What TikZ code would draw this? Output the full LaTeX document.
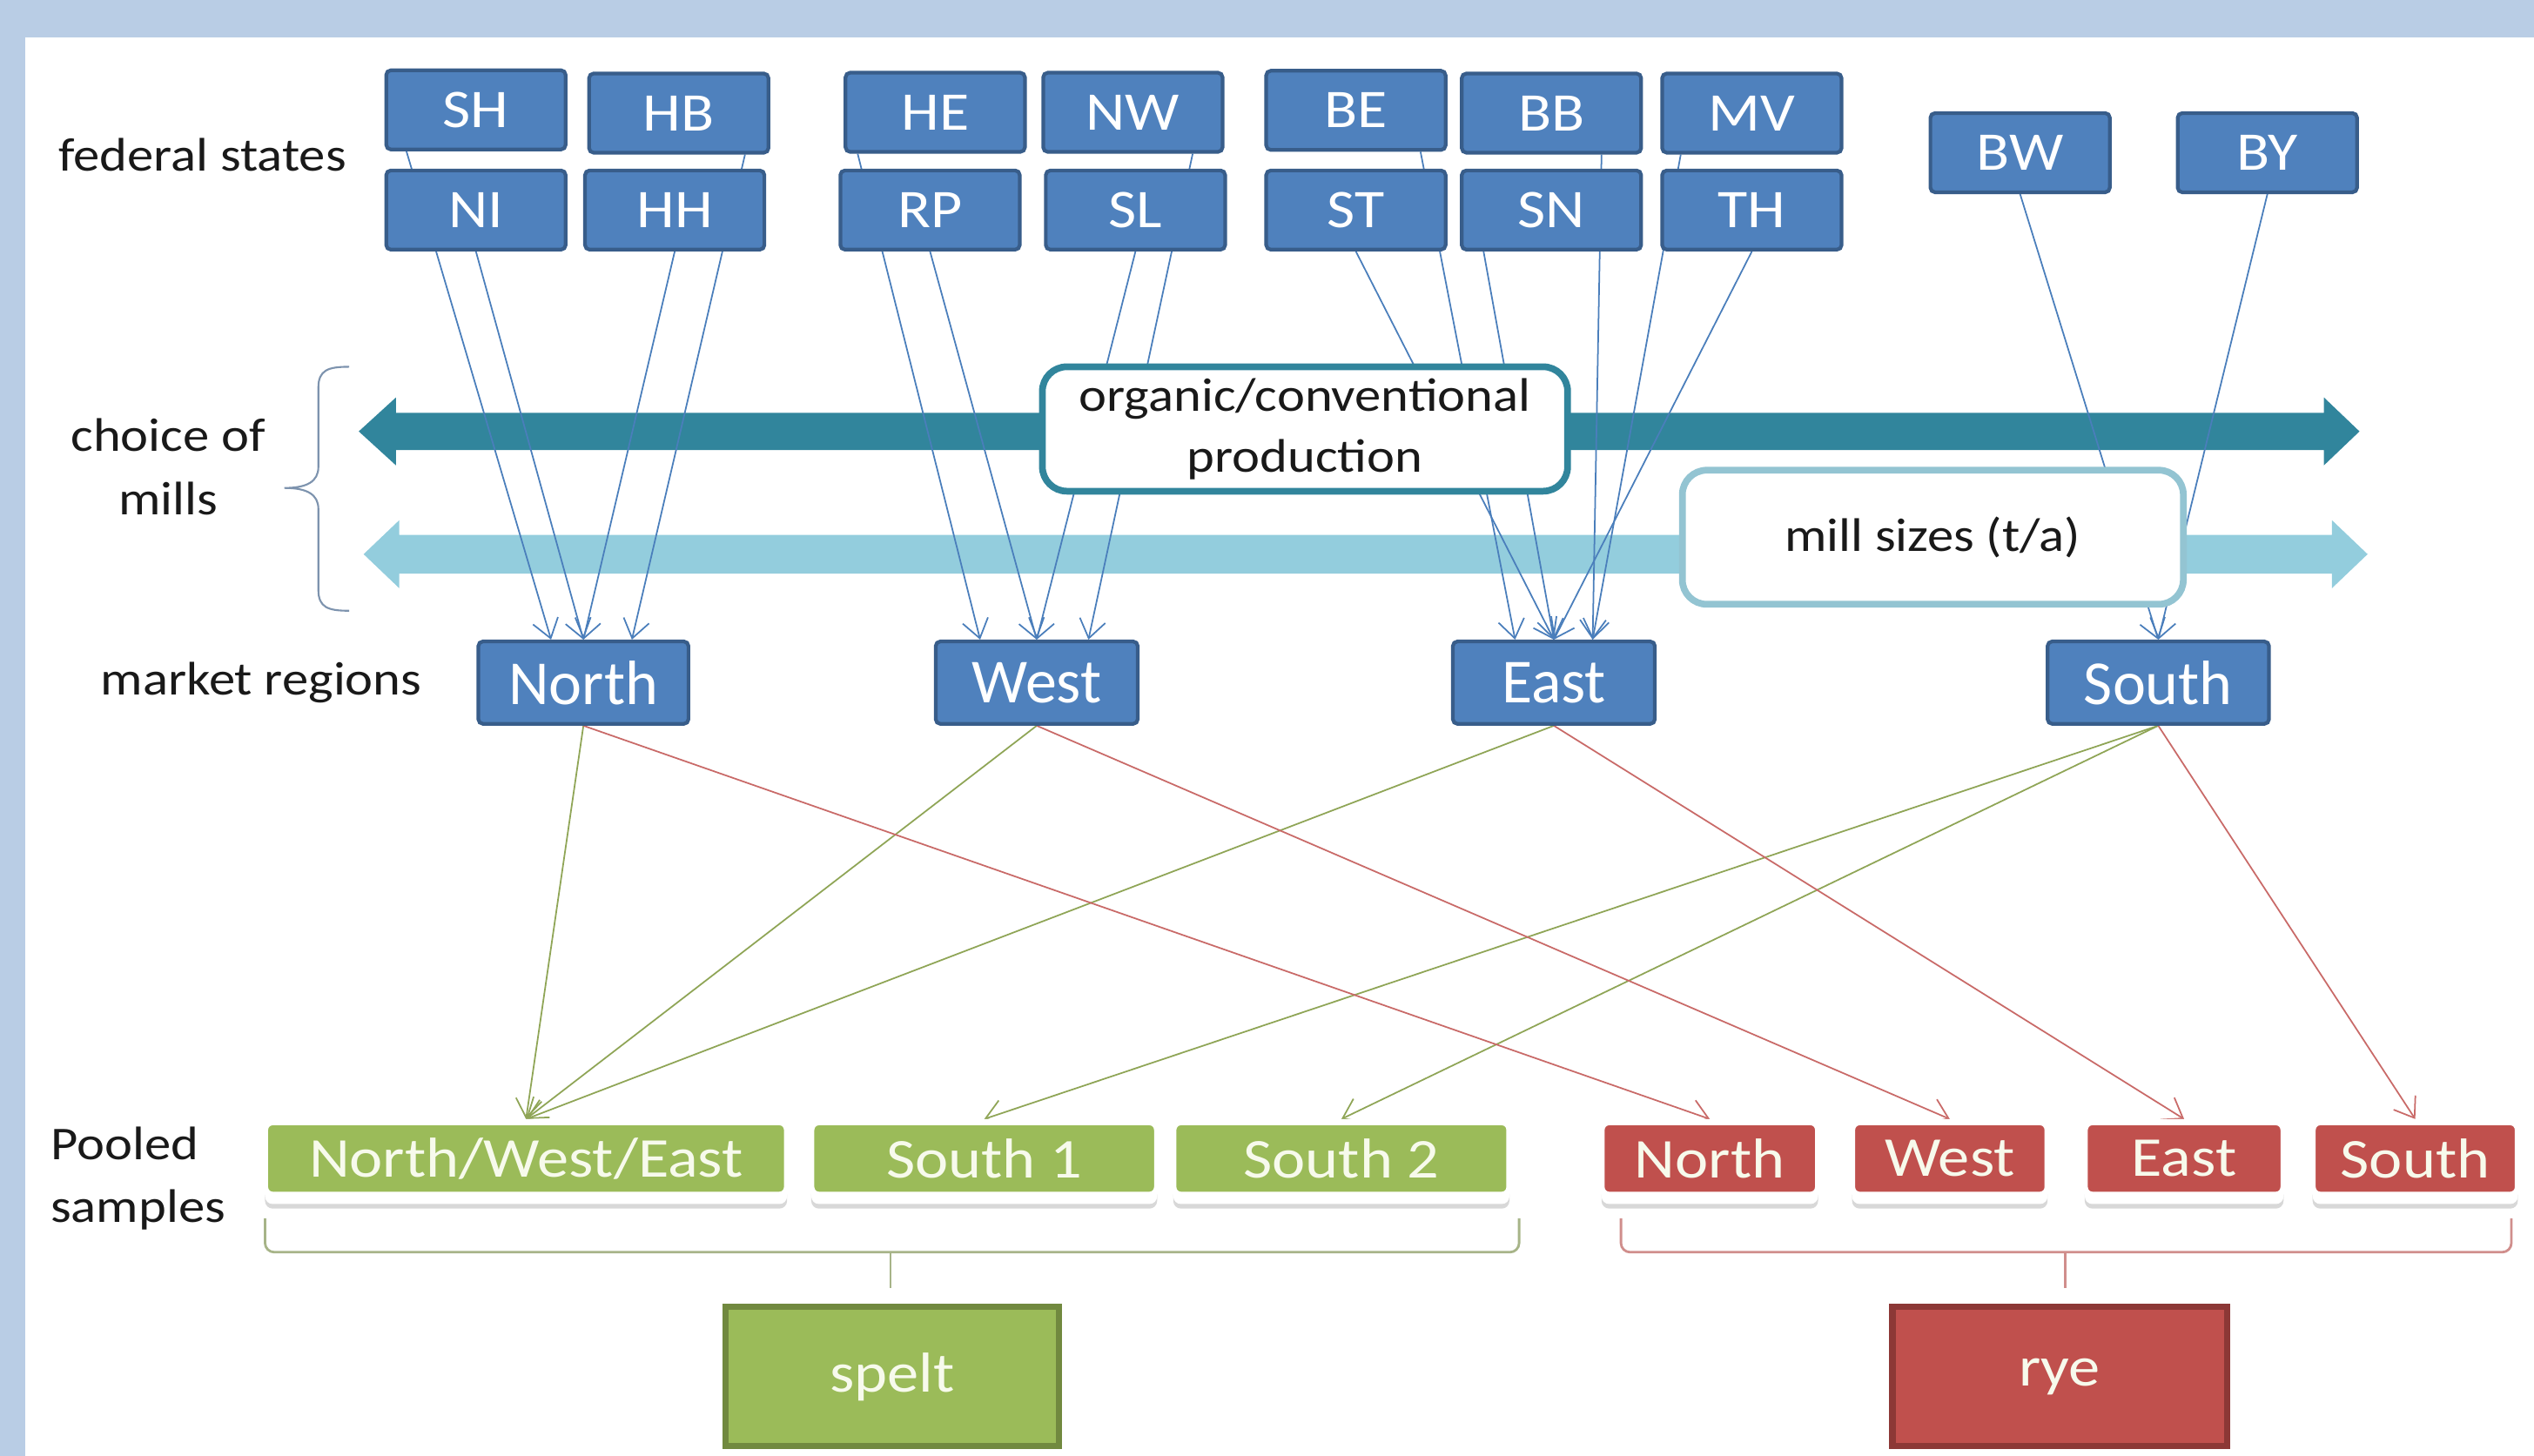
\documentclass[tikz,border=0pt]{standalone}
\usepackage{fontspec}
\setmainfont{Carlito}
\newfontfamily\widefont{Carlito}[FakeStretch=1.12]
\usetikzlibrary{arrows.meta,calc,shadows}
\pgfdeclarelayer{back}
\pgfdeclarelayer{wires}
\pgfsetlayers{back,wires,main}
\newcommand{\pxs}{0.018565cm}
\definecolor{frameblue}{HTML}{B9CDE5}
\definecolor{stateblue}{HTML}{4F81BD}
\definecolor{stateline}{HTML}{385D8A}
\definecolor{wireblue}{HTML}{4A7EBB}
\definecolor{tealdark}{HTML}{31859C}
\definecolor{teallight}{HTML}{93CDDD}
\definecolor{teallightline}{HTML}{93C4D2}
\definecolor{speltgreen}{HTML}{9BBB59}
\definecolor{speltline}{HTML}{71893F}
\definecolor{speltwire}{HTML}{8FA556}
\definecolor{speltbrace}{HTML}{A7B488}
\definecolor{ryered}{HTML}{C0504D}
\definecolor{ryeline}{HTML}{8C3836}
\definecolor{ryebrace}{HTML}{D08E8C}
\definecolor{bracegray}{HTML}{7D93AE}
\definecolor{creamtext}{HTML}{F7FAEC}

\begin{document}
\begin{tikzpicture}[x=0.018565cm, y=-0.018565cm]
    \tikzset{statebox/.style={draw=stateline, fill=stateblue, line width=1.2pt, rounded corners=1.5pt,
            text=white, inner sep=0pt, minimum width=111*\pxs, minimum height=49*\pxs,
            font=\widefont\fontsize{17.8}{20}\selectfont},
        regionbox/.style={statebox, minimum height=51*\pxs, font=\fontsize{20.5}{24}\selectfont},
        pooled/.style={draw=white, line width=2pt, rounded corners=2.5pt, inner sep=0pt,
            minimum height=45*\pxs, text=creamtext, font=\widefont\fontsize{18.4}{22}\selectfont,
            drop shadow={shadow xshift=0pt, shadow yshift=-4.5pt, opacity=.3, fill=black!50},
            drop shadow={shadow xshift=0pt, shadow yshift=-3pt, opacity=1, fill=white}},
        cropbox/.style={line width=2pt, inner sep=0pt, minimum width=206*\pxs, minimum height=86*\pxs,
            text=creamtext, font=\widefont\fontsize{18.4}{22}\selectfont},
        rowlabel/.style={inner sep=0pt, text=black!90, font=\widefont\fontsize{15.4}{20.6}\selectfont},
        choicebox/.style={fill=white, line width=2.2pt, rounded corners=8pt, inner sep=0pt, align=center,
            text=black!90, font=\widefont\fontsize{15.4}{20}\selectfont},
        wire/.style={draw=wireblue, line width=.5pt, -{Straight Barb[length=6pt,width=8.5pt]}},
        speltwire/.style={wire, draw=speltwire},
        ryewire/.style={wire, draw=ryered!85!white}}
    \useasboundingbox (0,0) rectangle (1568,901);

    %federal states
    \node[statebox] (SH) at (294.5,68) {SH};
    \node[statebox] (HB) at (420,70) {HB};
    \node[statebox] (NI) at (294.5,130) {NI};
    \node[statebox] (HH) at (417.5,130) {HH};
    \node[statebox] (HE) at (578.7,69.5) {HE};
    \node[statebox] (NW) at (701,69.5) {NW};
    \node[statebox] (RP) at (575.5,130) {RP};
    \node[statebox] (SL) at (702.6,130) {SL};
    \node[statebox] (BE) at (839,68.3) {BE};
    \node[statebox] (BB) at (960,70) {BB};
    \node[statebox] (MV) at (1084,70) {MV};
    \node[statebox] (ST) at (839,130) {ST};
    \node[statebox] (SN) at (960,130) {SN};
    \node[statebox] (TH) at (1084,130) {TH};
    \node[statebox] (BW) at (1250,94.5) {BW};
    \node[statebox] (BY) at (1403,94.5) {BY};

    %market regions
    \node[regionbox, minimum width=130*\pxs] (North) at (361,422.5) {North};
    \node[regionbox, minimum width=125*\pxs] (West) at (641.5,422.5) {West};
    \node[regionbox, minimum width=125*\pxs] (East) at (961.5,422.5) {East};
    \node[regionbox, minimum width=137*\pxs] (South) at (1335.5,422.5) {South};

    %row labels
    \node[rowlabel, anchor=base west] (fedlab) at (36,106) {federal states};
    \node[rowlabel, align=center, anchor=south] (milllab) at (104,319) {choice of\\mills};
    \node[rowlabel, anchor=base west] (reglab) at (62,430) {market regions};
    \node[rowlabel, align=left, anchor=north west] (poollab) at (31,697) {Pooled\\samples};

    %choice of mills
    \node[choicebox, draw=tealdark, minimum width=325*\pxs, minimum height=77*\pxs] (organic) at (807.5,265.5) {organic/conventional\\production};
    \node[choicebox, draw=teallightline, minimum width=310*\pxs, minimum height=83*\pxs] (millsize) at (1196,332.5) {mill sizes (t/a)};
    \draw[bracegray, line width=.6pt] (216,227) .. controls (203,227) and (197,229) .. (197,240) -- (197,289)
        .. controls (197,298) and (190,302) .. (176,302) .. controls (190,302) and (197,306) .. (197,315)
        -- (197,365) .. controls (197,376) and (203,378) .. (216,378);

    %pooled samples
    \node[pooled, fill=speltgreen, minimum width=323*\pxs] (NWE) at (325.5,717) {North/West/East};
    \node[pooled, fill=speltgreen, minimum width=214*\pxs] (SouthA) at (609,717) {South 1};
    \node[pooled, fill=speltgreen, minimum width=208*\pxs] (SouthB) at (830,717) {South 2};
    \node[pooled, fill=ryered, minimum width=134*\pxs] (rNorth) at (1058,717) {North};
    \node[pooled, fill=ryered, minimum width=121*\pxs] (rWest) at (1206.5,717) {West};
    \node[pooled, fill=ryered, minimum width=123*\pxs] (rEast) at (1351.5,717) {East};
    \node[pooled, fill=ryered, minimum width=127*\pxs] (rSouth) at (1494.5,717) {South};

    %crops
    \node[cropbox, fill=speltgreen, draw=speltline] (spelt) at (552,852) {spelt};
    \node[cropbox, fill=ryered, draw=ryeline, minimum width=207*\pxs] (rye) at (1274.5,852) {rye};
    \draw[speltbrace, line width=.8pt, rounded corners=3pt] (164,754) -- (164,775) -- (940,775) -- (940,754);
    \draw[speltbrace, line width=.8pt] (551,775) -- (551,797);
    \draw[ryebrace, line width=.8pt, rounded corners=3pt] (1003,754) -- (1003,775) -- (1554,775) -- (1554,754);
    \draw[ryebrace, line width=.8pt] (1278,775) -- (1278,797);

    \begin{pgfonlayer}{back}
        \fill[frameblue] (0,0) rectangle (1568,901);
        \fill[white] (15.5,23) rectangle (1568,901);
        \fill[tealdark] (222,267) -- (245,246) -- (245,255.5) -- (1438,255.5) -- (1438,246) -- (1460,267)
            -- (1438,288) -- (1438,278.5) -- (245,278.5) -- (245,288) -- cycle;
        \fill[teallight] (225,343) -- (247,322) -- (247,331) -- (1443,331) -- (1443,322) -- (1465,343)
            -- (1443,364) -- (1443,355) -- (247,355) -- (247,364) -- cycle;
    \end{pgfonlayer}

    \begin{pgfonlayer}{wires}
        %states to regions
        \draw[wire] ($(SH.south)+(-43,0)$) -- ($(North.north)+(-20,0)$);
        \draw[wire] (NI.south) -- (North.north);
        \draw[wire] ($(HB.south)+(41,0)$) -- ($(North.north)+(30,0)$);
        \draw[wire] (HH.south) -- (North.north);
        \draw[wire] ($(HE.south)+(-48,0)$) -- ($(West.north)+(-35,0)$);
        \draw[wire] (RP.south) -- (West.north);
        \draw[wire] ($(NW.south)+(37,0)$) -- ($(West.north)+(32,0)$);
        \draw[wire] (SL.south) -- (West.north);
        \draw[wire] ($(BE.south)+(40,0)$) -- ($(East.north)+(-24,0)$);
        \draw[wire] (ST.south) -- (East.north);
        \draw[wire] ($(BB.south)+(31,0)$) -- ($(East.north)+(24,0)$);
        \draw[wire] ($(SN.south)+(-42,0)$) -- (East.north);
        \draw[wire] ($(MV.south)+(-44,0)$) -- ($(East.north)+(24,0)$);
        \draw[wire] (TH.south) -- (East.north);
        \draw[wire] (BW.south) -- (South.north);
        \draw[wire] (BY.south) -- (South.north);
        %regions to spelt
        \draw[speltwire] (North.south) -- (NWE.north);
        \draw[speltwire] (West.south) -- (NWE.north);
        \draw[speltwire] (East.south) -- (NWE.north);
        \draw[speltwire] (South.south) -- (SouthA.north);
        \draw[speltwire] (South.south) -- (SouthB.north);
        %regions to rye
        \draw[ryewire] (North.south) -- (rNorth.north);
        \draw[ryewire] (West.south) -- (rWest.north);
        \draw[ryewire] (East.south) -- (rEast.north);
        \draw[ryewire] (South.south) -- (rSouth.north);
    \end{pgfonlayer}
\end{tikzpicture}
\end{document}
